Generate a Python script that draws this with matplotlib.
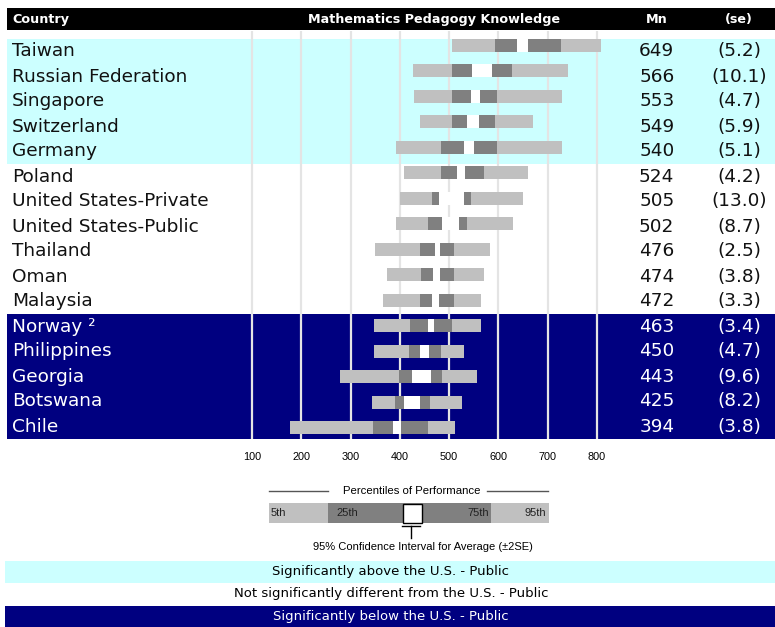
import matplotlib.pyplot as plt
from matplotlib.patches import Rectangle
from matplotlib.lines import Line2D

countries = ["Taiwan", "Russian Federation", "Singapore", "Switzerland", "Germany",
             "Poland", "United States-Private", "United States-Public", "Thailand",
             "Oman", "Malaysia", "Norway \u00b2", "Philippines", "Georgia", "Botswana", "Chile"]
p5 = [506, 427, 429, 441, 392, 408, 400, 392, 350, 374, 366, 348, 348, 279, 343, 177]
p25 = [593, 506, 506, 506, 483, 483, 465, 457, 441, 443, 441, 421, 419, 398, 390, 345]
p75 = [727, 627, 597, 593, 597, 571, 544, 536, 510, 510, 510, 506, 483, 485, 461, 457]
p95 = [808, 741, 729, 670, 729, 660, 650, 629, 583, 571, 565, 565, 530, 556, 526, 512]
means = [649, 566, 553, 549, 540, 524, 505, 502, 476, 474, 472, 463, 450, 443, 425, 394]
ses = [5.2, 10.1, 4.7, 5.9, 5.1, 4.2, 13.0, 8.7, 2.5, 3.8, 3.3, 3.4, 4.7, 9.6, 8.2, 3.8]
n_above = 5
n_below = 5
ticks = [100, 200, 300, 400, 500, 600, 700, 800]

W, H = 775, 627
CYAN = "#ccffff"
NAVY = "#000080"
LIGHT = "#c0c0c0"
DARK = "#808080"
ARIAL = ["Liberation Sans", "DejaVu Sans"]


def fx(px):
    return px / W


def fy(py):
    return 1 - py / H


fig = plt.figure(figsize=(W / 100, H / 100), dpi=100)

# header bar
fig.add_artist(Rectangle((fx(7), fy(30)), fx(768), 22 / H, transform=fig.transFigure,
                         color="black", lw=0))
hdr = dict(color="white", fontsize=9.2, fontweight="bold", family="DejaVu Sans", va="center")
fig.text(fx(12), fy(19), "Country", ha="left", **hdr)
fig.text(fx(434), fy(19), "Mathematics Pedagogy Knowledge", ha="center", **hdr)
fig.text(fx(657), fy(19.5), "Mn", ha="center", **hdr)
fig.text(fx(739), fy(19.5), "(se)", ha="center", **hdr)

# main panel: x in score units, y in rows
ax = fig.add_axes([fx(7), fy(439), fx(768), 408 / H])
n = len(countries)
ax.set_xlim(100 - (252 - 7) / 0.49286, 100 + (775 - 252) / 0.49286)
ax.set_ylim(n - 0.5, -0.82)
for s in ax.spines.values():
    s.set_visible(False)
ax.set_yticks([])

ax.axhspan(-0.5, n_above - 0.5, color=CYAN, lw=0, zorder=0)
ax.axhspan(n - n_below - 0.5, n - 0.5, color=NAVY, lw=0, zorder=0)
for t in ticks:
    ax.axvline(t, color="#e4e4e4", lw=1.6, zorder=1)

# bars sit a little above the text line, drifting slightly down the table
ypos = [-0.24 + 1.0187 * i for i in range(n)]
bh = 0.52
ax.barh(ypos, [b - a for a, b in zip(p5, p95)], left=p5, height=bh, color=LIGHT, lw=0, zorder=2)
ax.barh(ypos, [b - a for a, b in zip(p25, p75)], left=p25, height=bh, color=DARK, lw=0, zorder=3)
ax.barh(ypos, [4 * s for s in ses], left=[m - 2 * s for m, s in zip(means, ses)],
        height=bh, color="white", lw=0, zorder=4)

tr = ax.get_yaxis_transform()
for i, (c, m, s) in enumerate(zip(countries, means, ses)):
    col = "white" if i >= n - n_below else "#111111"
    ax.text(0.0065, i, c, transform=tr, ha="left", va="center", fontsize=13.3,
            color=col, family="DejaVu Sans")
    ax.text(0.846, i, f"{m}", transform=tr, ha="center", va="center", fontsize=13.3,
            color=col, family="DejaVu Sans")
    ax.text(0.954, i, f"({s:.1f})", transform=tr, ha="center", va="center", fontsize=13.3,
            color=col, family="DejaVu Sans")

ax.set_xticks(ticks)
ax.set_xticklabels([str(t) for t in ticks], family=ARIAL, fontsize=7.8)
ax.tick_params(axis="x", length=0, pad=9)

# percentile legend
fig.text(fx(412), fy(491), "Percentiles of Performance", ha="center", va="center",
         fontsize=8.2, family=ARIAL)
fig.add_artist(Line2D([fx(269), fx(328)], [fy(491), fy(491)], transform=fig.transFigure,
                      color="#555555", lw=1))
fig.add_artist(Line2D([fx(487), fx(548)], [fy(491), fy(491)], transform=fig.transFigure,
                      color="#555555", lw=1))
legend_parts = [(269, 328, LIGHT), (328, 491, DARK), (491, 549, LIGHT)]
for x0, x1, col in legend_parts:
    fig.add_artist(Rectangle((fx(x0), fy(523)), fx(x1 - x0), 20 / H,
                             transform=fig.transFigure, color=col, lw=0))
fig.add_artist(Rectangle((fx(402.5), fy(522.5)), fx(19), 19 / H, transform=fig.transFigure,
                         facecolor="white", edgecolor="black", lw=1))
fig.add_artist(Line2D([fx(402), fx(420)], [fy(525.5), fy(525.5)], transform=fig.transFigure,
                      color="black", lw=1))
fig.add_artist(Line2D([fx(411), fx(411)], [fy(525.5), fy(538)], transform=fig.transFigure,
                      color="black", lw=1))
lab = dict(fontsize=8, family=ARIAL, va="center", color="#222222")
fig.text(fx(271), fy(513), "5th", ha="left", **lab)
fig.text(fx(336), fy(513), "25th", ha="left", **lab)
fig.text(fx(489), fy(513), "75th", ha="right", **lab)
fig.text(fx(546), fy(513), "95th", ha="right", **lab)
fig.text(fx(423), fy(547), "95% Confidence Interval for Average (\u00b12SE)", ha="center",
         va="center", fontsize=8, family=ARIAL)

# significance key
key = [(561, 583, CYAN, "black", "Significantly above the U.S. - Public"),
       (583, 605, "white", "black", "Not significantly different from the U.S. - Public"),
       (606, 627, NAVY, "white", "Significantly below the U.S. - Public")]
for y0, y1, bg, fg, txt in key:
    fig.add_artist(Rectangle((fx(5), fy(y1)), fx(770), (y1 - y0) / H,
                             transform=fig.transFigure, color=bg, lw=0))
    fig.text(fx(391), fy((y0 + y1) / 2), txt, ha="center", va="center", fontsize=9.5,
             family="DejaVu Sans", color=fg)

fig.savefig("out.png", dpi=100)
